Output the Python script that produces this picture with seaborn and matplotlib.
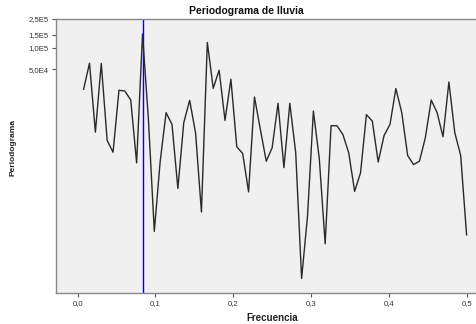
import matplotlib
matplotlib.use("Agg")
import matplotlib.pyplot as plt
import seaborn as sns
import pandas as pd
from matplotlib.ticker import FixedLocator, FixedFormatter, NullLocator

# ---- data ----
n_months = 132
frequencies = [k / n_months for k in range(1, 67)]
periodogram = [
    26250, 60650, 6645, 60070, 5090, 3490, 25430, 24870, 18620, 2481,
    154250, 10000, 276, 2615, 12400, 8515, 1092, 8995, 18435, 6520,
    513, 118000, 27100, 48400, 9685, 36240, 4155, 3350, 979, 20500,
    7250, 2615, 4020, 16740, 2130, 16740, 3425, 61, 445, 13070,
    2850, 185, 8165, 8165, 6170, 3425, 995, 1799, 11640, 9470,
    2546, 5975, 8515, 26870, 12400, 3140, 2350, 2615, 5550, 18620,
    12400, 5730, 33220, 6520, 3140, 247,
]
marker_freq = 1 / 12
xticks = [0.0, 0.1, 0.2, 0.3, 0.4, 0.5]
xtick_labels = ["0,0", "0,1", "0,2", "0,3", "0,4", "0,5"]
yticks = [5.0e4, 1.0e5, 1.5e5, 2.5e5]
ytick_labels = ["5,0E4", "1,0E5", "1,5E5", "2,5E5"]
title = "Periodograma de lluvia"
xlabel = "Frecuencia"
ylabel = "Periodograma"

df = pd.DataFrame({"Frecuencia": frequencies, "Periodograma": periodogram})

plt.rcParams["font.family"] = ["Liberation Sans", "DejaVu Sans"]

fig = plt.figure(figsize=(4.77, 3.24), dpi=100)
ax = fig.add_axes([55.7 / 477, (324 - 292.7) / 324, (477 - 55.7) / 477, (292.7 - 19) / 324])
ax.set_facecolor("#f0f0f0")

ax.axvline(marker_freq, color="#0000ff", lw=1.0, zorder=2)
sns.lineplot(data=df, x="Frecuencia", y="Periodograma", ax=ax,
             color="#2a2a2a", lw=1.0, zorder=3)

ax.set_yscale("log")
ax.set_xlim(-0.0283, 0.5134)
ax.set_ylim(38.6, 2.5e5)

ax.xaxis.set_major_locator(FixedLocator(xticks))
ax.xaxis.set_major_formatter(FixedFormatter(xtick_labels))
ax.xaxis.set_minor_locator(NullLocator())
ax.yaxis.set_major_locator(FixedLocator(yticks))
ax.yaxis.set_major_formatter(FixedFormatter(ytick_labels))
ax.yaxis.set_minor_locator(NullLocator())

ax.tick_params(axis="both", direction="out", length=3, width=0.8, color="#555555",
               labelsize=5.6, labelcolor="#333333", pad=2)

for side in ["left", "bottom", "top"]:
    ax.spines[side].set_color("#888888")
    ax.spines[side].set_linewidth(1.0)
ax.spines["right"].set_visible(False)

ax.set_xlabel("")
ax.set_ylabel("")
fig.text(272 / 477, 1 - 318 / 324, xlabel, ha="center", va="center",
         fontsize=7, fontweight="bold", color="#222222")
fig.text(13 / 477, 1 - 147 / 324, ylabel, ha="center", va="center", rotation=90,
         fontsize=6, fontweight="bold", color="#222222")
fig.text(246 / 477, 1 - 11 / 324, title, ha="center", va="center",
         fontsize=7.5, fontweight="bold", color="#111111")

fig.savefig("out.png", dpi=100, facecolor="white")
